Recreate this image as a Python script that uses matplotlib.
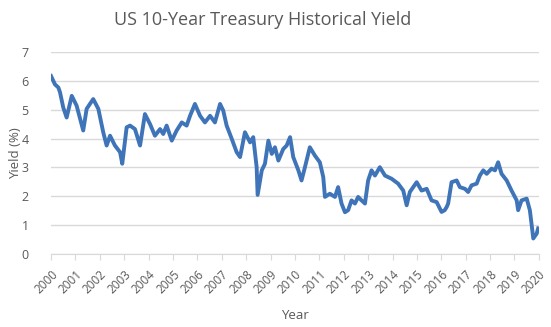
import numpy as np
import matplotlib
matplotlib.use("Agg")
import matplotlib.pyplot as plt

# Datos: año decimal y rendimiento (%)
anios = [
    2000.00, 2000.16, 2000.30, 2000.37, 2000.50, 2000.64, 2000.85,
    2001.05, 2001.32, 2001.46, 2001.73, 2001.94,
    2002.14, 2002.28, 2002.42, 2002.62, 2002.83, 2002.92,
    2003.10, 2003.24, 2003.44, 2003.65, 2003.85,
    2004.06, 2004.26, 2004.47, 2004.60, 2004.74, 2004.95,
    2005.15, 2005.36, 2005.56, 2005.70, 2005.90,
    2006.11, 2006.31, 2006.52, 2006.72, 2006.93,
    2007.06, 2007.20, 2007.41, 2007.61, 2007.75, 2007.95,
    2008.16, 2008.29, 2008.43, 2008.47, 2008.64, 2008.77, 2008.91,
    2009.05, 2009.18, 2009.32, 2009.52, 2009.66, 2009.80, 2009.93,
    2010.14, 2010.27, 2010.41, 2010.61, 2010.82,
    2011.02, 2011.16, 2011.23, 2011.43, 2011.64, 2011.77, 2011.91,
    2012.05, 2012.18, 2012.32, 2012.46, 2012.59, 2012.73, 2012.87,
    2013.00, 2013.14, 2013.28, 2013.48, 2013.69, 2013.96,
    2014.23, 2014.44, 2014.58, 2014.71, 2014.99,
    2015.19, 2015.40, 2015.60, 2015.81,
    2016.01, 2016.14, 2016.22, 2016.28, 2016.42, 2016.63, 2016.76, 2016.97,
    2017.10, 2017.24, 2017.45, 2017.58, 2017.72, 2017.86,
    2018.06, 2018.20, 2018.33, 2018.47, 2018.68, 2018.88,
    2019.09, 2019.15, 2019.29, 2019.50, 2019.63, 2019.73, 2019.77, 2019.91, 2019.97,
]
rendimiento = [
    6.17, 5.88, 5.77, 5.60, 5.08, 4.73, 5.48,
    5.14, 4.28, 5.03, 5.37, 5.03,
    4.22, 3.76, 4.10, 3.76, 3.53, 3.13,
    4.39, 4.45, 4.33, 3.76, 4.85,
    4.50, 4.10, 4.33, 4.16, 4.45, 3.93,
    4.28, 4.56, 4.45, 4.79, 5.20,
    4.79, 4.56, 4.79, 4.56, 5.20,
    4.97, 4.45, 3.99, 3.53, 3.36, 4.22,
    3.87, 4.05, 3.01, 2.05, 2.90, 3.13, 3.93,
    3.47, 3.70, 3.24, 3.64, 3.76, 4.05, 3.36,
    2.90, 2.55, 3.01, 3.70, 3.41,
    3.18, 2.67, 1.98, 2.09, 1.98, 2.32, 1.75,
    1.45, 1.52, 1.86, 1.75, 1.98, 1.86, 1.75,
    2.55, 2.90, 2.72, 3.01, 2.72, 2.61,
    2.44, 2.20, 1.69, 2.15, 2.49,
    2.20, 2.26, 1.86, 1.80,
    1.46, 1.52, 1.63, 1.75, 2.49, 2.55, 2.32, 2.26,
    2.15, 2.38, 2.44, 2.72, 2.90, 2.78,
    2.96, 2.90, 3.18, 2.78, 2.55, 2.20,
    1.86, 1.52, 1.86, 1.92, 1.52, 0.83, 0.54, 0.71, 0.89,
]

etiquetas_x = [str(a) for a in range(2000, 2021)]

gris = "#595959"
plt.rcParams["font.family"] = ["Open Sans", "DejaVu Sans"]

fig = plt.figure(figsize=(5.51, 3.27), dpi=100)
ax = fig.add_axes([0.0926, 0.223, 0.8854, 0.618])

ax.plot(anios, rendimiento, color="#3F74B9", linewidth=2.8)

ax.set_xlim(2000, 2020)
ax.set_ylim(0, 7)
ax.set_yticks(range(0, 8))
ax.set_xticks(range(2000, 2021))
ax.set_xticklabels(etiquetas_x, rotation=45, ha="right", va="top", rotation_mode="anchor")
ax.grid(axis="y", color="#D9D9D9", linewidth=1)
ax.set_axisbelow(True)

for lado in ["top", "right", "left"]:
    ax.spines[lado].set_visible(False)
ax.spines["bottom"].set_color("#D9D9D9")
ax.tick_params(axis="x", colors="#D9D9D9", labelcolor=gris, labelsize=8.5, length=4, pad=6)
ax.tick_params(axis="y", length=0, labelcolor=gris, labelsize=9, pad=16)

ax.set_xlabel("Year", color=gris, fontsize=9.5, labelpad=9)
ax.set_ylabel("Yield (%)", color=gris, fontsize=9.5, labelpad=0)
fig.suptitle("US 10-Year Treasury Historical Yield", color=gris, fontsize=13, x=0.476, y=0.965)

fig.savefig("out.png", dpi=100)
